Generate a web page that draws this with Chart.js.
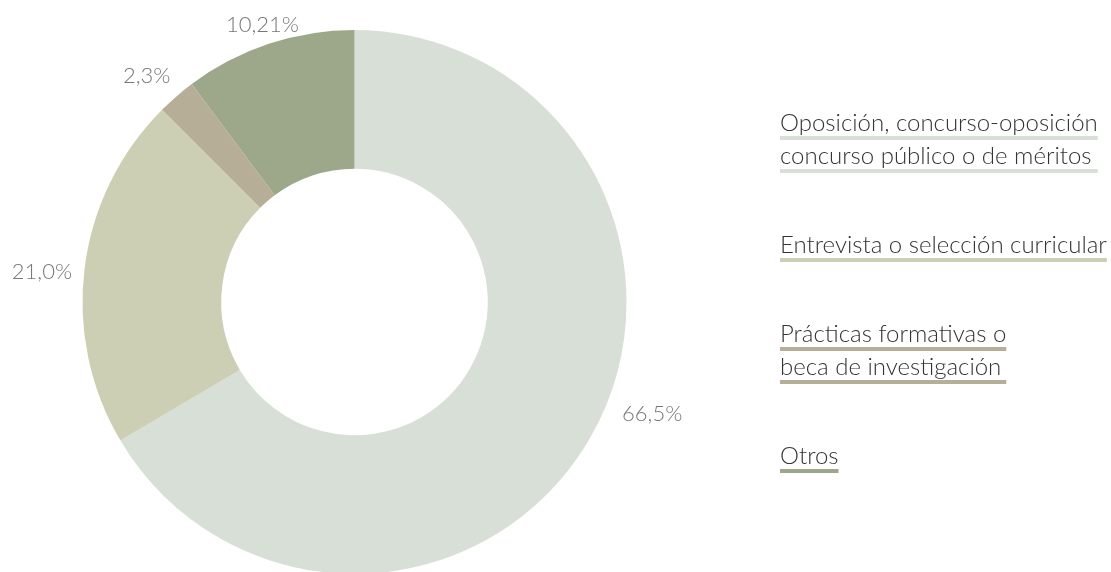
<!DOCTYPE html>
<html>
<head>
<meta charset="utf-8">
<script src="https://cdn.jsdelivr.net/npm/chart.js@4"></script>
<style>
  html, body { margin: 0; padding: 0; background: #ffffff; overflow: hidden; }
  #wrap { width: 1111px; height: 600px; }
</style>
</head>
<body>
<div id="wrap"><canvas id="c" width="1111" height="600"></canvas></div>
<script>
// ---- Data ----
const categories = [
  'Oposición, concurso-oposición concurso público o de méritos',
  'Entrevista o selección curricular',
  'Prácticas formativas o beca de investigación',
  'Otros'
];
const legendLines = [
  ['Oposición, concurso-oposición', 'concurso público o de méritos'],
  ['Entrevista o selección curricular'],
  ['Prácticas formativas o', 'beca de investigación'],
  ['Otros']
];
const values = [66.5, 21.0, 2.3, 10.21];
const valueLabels = ['66,5%', '21,0%', '2,3%', '10,21%'];
const colors = ['#d8dfd6', '#cdcfb4', '#b7ae98', '#9da88a'];

// ---- Styling (not data) ----
const FONT = 'Lato, "Open Sans", sans-serif';
const labelNudges = [ {da: -9.1, r: 318}, {da: -1.7, r: 314}, {da: -1.7, r: 307}, {da: 0, r: 292} ];

const outsideLabels = {
  id: 'outsideLabels',
  afterDatasetsDraw(chart) {
    const ctx = chart.ctx;
    const meta = chart.getDatasetMeta(0);
    ctx.save();
    ctx.font = '300 22px ' + FONT;
    ctx.fillStyle = '#777777';
    ctx.textAlign = 'center';
    ctx.textBaseline = 'middle';
    meta.data.forEach((arc, i) => {
      const p = arc.getProps(['x','y','startAngle','endAngle'], true);
      const n = labelNudges[i];
      const a = (p.startAngle + p.endAngle) / 2 + n.da * Math.PI / 180;
      ctx.fillText(valueLabels[i], p.x + Math.cos(a) * n.r, p.y + Math.sin(a) * n.r);
    });
    ctx.restore();
  }
};

const underlineLegend = {
  id: 'underlineLegend',
  afterDraw(chart) {
    const ctx = chart.ctx;
    const x0 = 780;
    let y = 131;
    const lineH = 33, itemGap = 89, barOff = 5, barH = 4;
    ctx.save();
    ctx.font = '300 24px ' + FONT;
    ctx.textAlign = 'left';
    ctx.textBaseline = 'alphabetic';
    legendLines.forEach((lines, i) => {
      const w = Math.max(...lines.map(t => ctx.measureText(t).width));
      lines.forEach((t, j) => {
        ctx.fillStyle = '#333333';
        ctx.fillText(t, x0, y);
        ctx.fillStyle = colors[i];
        ctx.fillRect(x0, y + barOff, w, barH);
        if (j < lines.length - 1) y += lineH;
      });
      y += itemGap;
    });
    ctx.restore();
  }
};

new Chart(document.getElementById('c'), {
  type: 'doughnut',
  data: {
    labels: categories,
    datasets: [{
      data: values,
      backgroundColor: colors,
      borderWidth: 0,
      hoverOffset: 0
    }]
  },
  options: {
    responsive: false,
    animation: false,
    cutout: '49%',
    rotation: 0,
    layout: { padding: { left: 82, top: 30, right: 484, bottom: 26 } },
    plugins: {
      legend: { display: false },
      tooltip: { enabled: false }
    }
  },
  plugins: [outsideLabels, underlineLegend]
});
</script>
</body>
</html>
